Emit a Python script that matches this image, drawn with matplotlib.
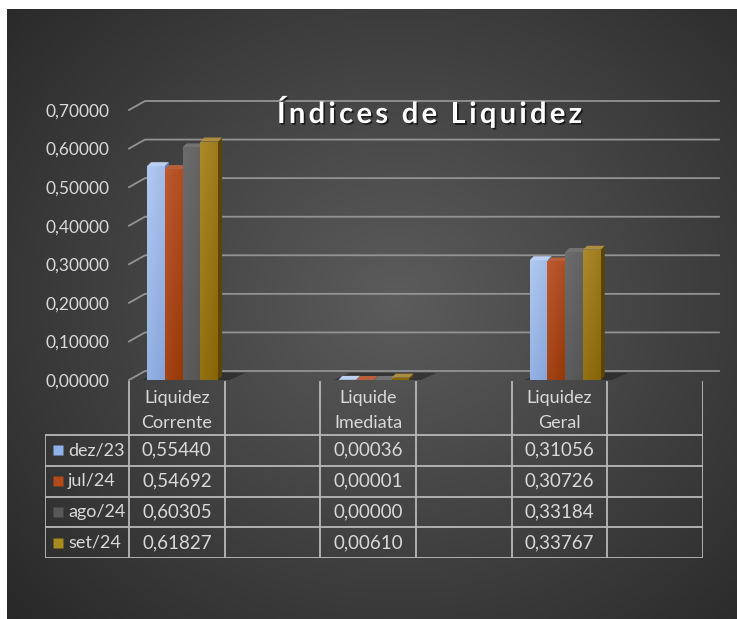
import numpy as np
import matplotlib.pyplot as plt
from matplotlib.patches import Polygon, Rectangle
import matplotlib.patheffects as pe

plt.rcParams['font.family'] = ['Lato', 'DejaVu Sans']

# data
categories = ["Liquidez\nCorrente", "", "Liquide\nImediata", "", "Liquidez\nGeral", ""]
series_names = ["dez/23", "jul/24", "ago/24", "set/24"]
dez23 = [0.55440, None, 0.00036, None, 0.31056, None]
jul24 = [0.54692, None, 0.00001, None, 0.30726, None]
ago24 = [0.60305, None, 0.00000, None, 0.33184, None]
set24 = [0.61827, None, 0.00610, None, 0.33767, None]
series = [dez23, jul24, ago24, set24]
yticks = [0.0, 0.1, 0.2, 0.3, 0.4, 0.5, 0.6, 0.7]
title = "Índices de Liquidez"

# (light, base, side, top)
colors = [
    ("#b2c9f0", "#85a5db", "#5f7fb5", "#bcd0f2"),
    ("#bd5a30", "#963808", "#6a2604", "#b8603c"),
    ("#6c6c6c", "#555555", "#3c3c3c", "#727272"),
    ("#ab8a2c", "#876405", "#5c4403", "#ad8d40"),
]
legend_colors = ["#8fb2ea", "#b34a1c", "#585858", "#a98a1e"]
text_col = "#d9d9d9"

W, H = 737, 619


def rect(x, y, w, h):
    return [x / W, 1 - (y + h) / H, w / W, h / H]


fig = plt.figure(figsize=(W / 100, H / 100), dpi=100, facecolor="white")

# dark radial background
bg = fig.add_axes(rect(7, 9, 730, 610))
bg.axis("off")
yy, xx = np.mgrid[0:610, 0:730]
d = np.sqrt(((xx - 390) / 470) ** 2 + ((yy - 290) / 420) ** 2)
shade = np.clip(0.36 - 0.18 * d, 0.15, 1)
bg.imshow(np.dstack([shade] * 3), aspect="auto", interpolation="bilinear")

# chart axes
ax_l, ax_t, ax_w, ax_h = 129, 110, 574, 270
ax = fig.add_axes(rect(ax_l, ax_t, ax_w, ax_h))
ax.patch.set_alpha(0)
for s in ax.spines.values():
    s.set_visible(False)
ax.set_xticks([])
ax.set_yticks(yticks)
ax.set_yticklabels([f"{v:.5f}".replace(".", ",") for v in yticks], color=text_col, fontsize=12.5)
ax.tick_params(axis="y", length=0, pad=14)
ax.set_xlim(-0.5, 5.5)
ax.set_ylim(0, 0.7)

sx = ax_w / 6.0
sy = ax_h / 0.7
bdx, bdy = 16 / sx, 9 / sy  # back wall offset
for v in yticks:
    ax.plot([-0.5, -0.5 + bdx, 5.5 + bdx], [v, v + bdy, v + bdy],
            color="#939393", lw=1.3, clip_on=False, zorder=1)

w = 0.1855
shift = 0.06
tdx, tdy = 4 / sx, 4 / sy

# floor shadows
for j, cat in enumerate(categories):
    if series[0][j] is None:
        continue
    x0 = j - 2 * w + shift - 0.05
    x1 = j + 2 * w + shift + 0.12
    ax.add_patch(Polygon([[x0, 0], [x1, 0], [x1 + bdx, bdy * 0.8], [x0 + bdx, bdy * 0.8]],
                         closed=True, facecolor="#1e1e1e", alpha=0.55, edgecolor="none",
                         zorder=2, clip_on=False))

grad_y = np.linspace(1, 0, 64)[:, None]
grad_x = np.linspace(0, 1, 16)[None, :]
tgrad = np.clip(0.65 * (1 - grad_y) + 0.35 * grad_x, 0, 1)

for i, vals in enumerate(series):
    light, base, side, top = colors[i]
    cmap = plt.matplotlib.colors.LinearSegmentedColormap.from_list("g", [light, base])
    for j, v in enumerate(vals):
        if v is None:
            continue
        x = j + (i - 2) * w + shift
        z = 3 + i
        ax.add_patch(Polygon([[x + w, 0], [x + w, v], [x + w + tdx, v + tdy], [x + w + tdx, tdy]],
                             closed=True, facecolor=side, edgecolor="none", zorder=z))
        ax.add_patch(Polygon([[x, v], [x + w, v], [x + w + tdx, v + tdy], [x + tdx, v + tdy]],
                             closed=True, facecolor=top, edgecolor="none", zorder=z))
        front = Rectangle((x, 0), w, v, facecolor=base, edgecolor="none", zorder=z)
        ax.add_patch(front)
        if v > 0.01:
            im = ax.imshow(tgrad, cmap=cmap, vmin=0, vmax=1, extent=[x, x + w, 0, v],
                           aspect="auto", zorder=z + 0.1, interpolation="bilinear")
            im.set_clip_path(front)
ax.set_xlim(-0.5, 5.5)
ax.set_ylim(0, 0.7)

# data table
leg_w = 84
row_h = 30.75
tab_top = 380
tab_h = 178
tab = fig.add_axes(rect(ax_l - leg_w, tab_top, ax_w + leg_w, tab_h))
tab.axis("off")
xl = -0.5 - leg_w / sx
ytop = tab_h / row_h
tab.set_xlim(xl, 5.5)
tab.set_ylim(0, ytop)
lc = "#b8b8b8"
for k in range(5):
    tab.plot([xl, 5.5], [k, k], color=lc, lw=1.3, solid_capstyle="butt")
tab.plot([xl, xl], [0, 4], color=lc, lw=1.3)
for b in np.arange(-0.5, 6.0, 1.0):
    tab.plot([b, b], [0, ytop - 0.05], color=lc, lw=1.3)

for j, cat in enumerate(categories):
    tab.text(j, (4 + ytop) / 2 - 0.1, cat, ha="center", va="center", color=text_col,
             fontsize=13, linespacing=1.65)

for i, vals in enumerate(series):
    yc = 3.5 - i
    tab.plot([xl + 13 / sx], [yc], marker="s", ms=6.5, color=legend_colors[i], mec="none")
    tab.text(xl + 23 / sx, yc, series_names[i], ha="left", va="center", color=text_col, fontsize=13)
    for j, v in enumerate(vals):
        if v is None:
            continue
        tab.text(j, yc, f"{v:.5f}".replace(".", ","), ha="center", va="center",
                 color=text_col, fontsize=13.5)

# title with letter spacing: place each character separately
renderer = fig.canvas.get_renderer()
tkw = dict(fontsize=21, fontweight="bold", color="white", va="baseline", ha="left")
shadow = [pe.withSimplePatchShadow(offset=(1.2, -1.2), shadow_rgbFace="black", alpha=0.6)]
tmp = fig.text(0, 0, title, **tkw)
full_w = tmp.get_window_extent(renderer).width
tmp.remove()
t_left, t_right, t_base = 277, 582, 123
spacing = (t_right - t_left - full_w) / (len(title) - 1)
for k, ch in enumerate(title):
    if k:
        tmp = fig.text(0, 0, title[:k] + "|", **tkw)
        bar = fig.text(0, 0, "|", **tkw)
        pre = tmp.get_window_extent(renderer).width - bar.get_window_extent(renderer).width
        tmp.remove()
        bar.remove()
    else:
        pre = 0
    fig.text((t_left + pre + k * spacing) / W, 1 - t_base / H, ch, path_effects=shadow, **tkw)

fig.savefig("out.png", dpi=100, facecolor="white")
